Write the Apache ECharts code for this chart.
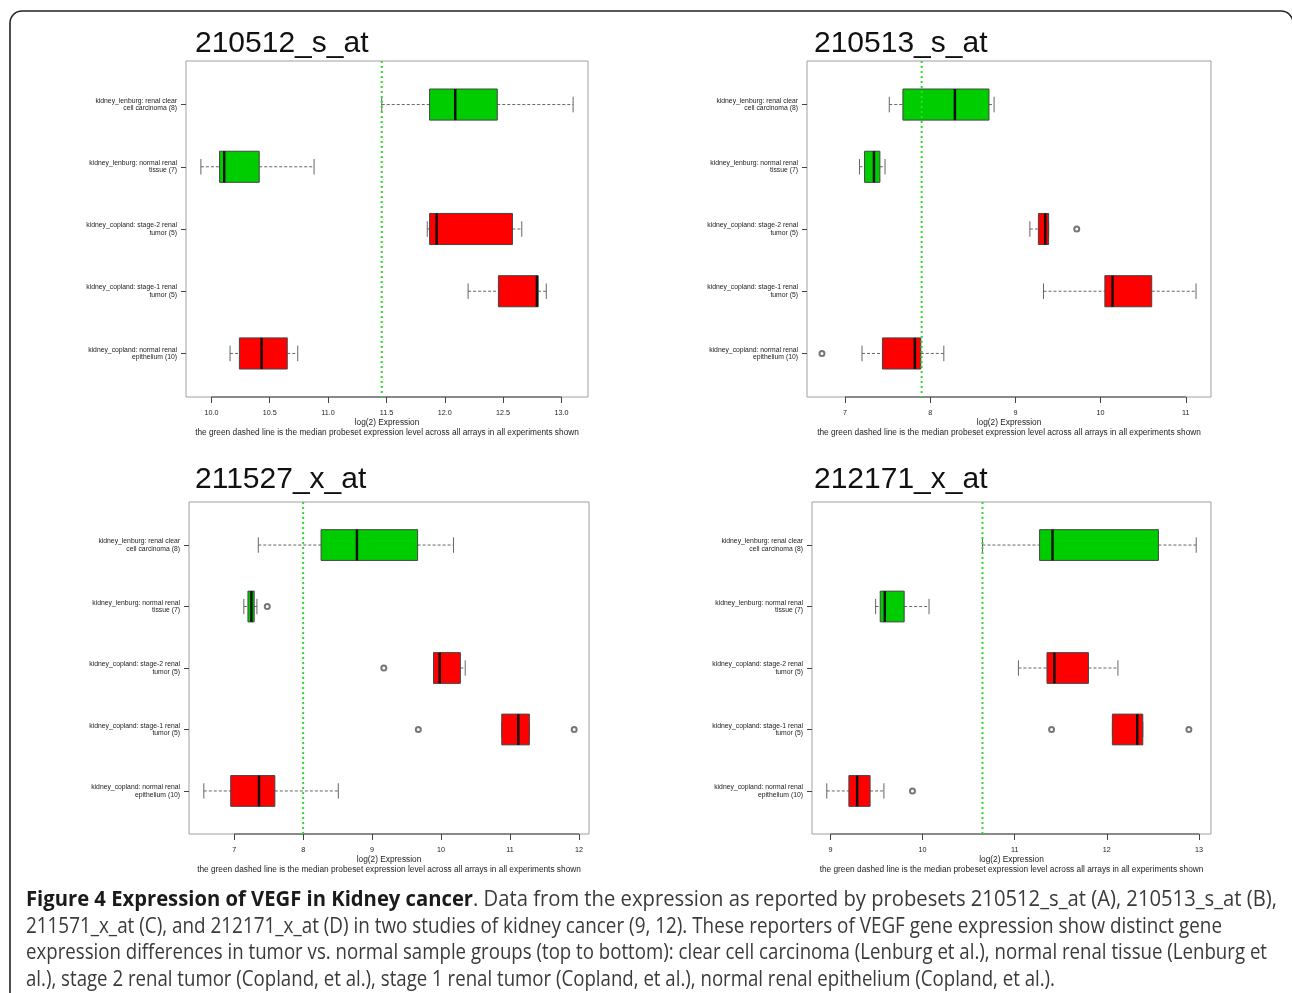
<!DOCTYPE html>
<html>
<head>
<meta charset="utf-8">
<title>Expression of VEGF in Kidney cancer</title>
<script src="https://cdn.jsdelivr.net/npm/echarts@6/dist/echarts.min.js"></script>
<style>
  html, body { margin: 0; padding: 0; background: #ffffff; }
  #chart { width: 1292px; height: 993px; }
</style>
</head>
<body>
<div id="chart"></div>
<script>
// ---- data -------------------------------------------------------------
const probeTitles = ['210512_s_at', '210513_s_at', '211527_x_at', '212171_x_at'];

const groupLabels = [
  'kidney_lenburg: renal clear\ncell carcinoma (8)',
  'kidney_lenburg: normal renal\ntissue (7)',
  'kidney_copland: stage-2 renal\ntumor (5)',
  'kidney_copland: stage-1 renal\ntumor (5)',
  'kidney_copland: normal renal\nepithelium (10)'
];

// five-number summaries per group: [lower whisker, Q1, median, Q3, upper whisker]
const stats210512 = [
  [11.46, 11.87, 12.09, 12.45, 13.10],
  [9.91, 10.07, 10.11, 10.41, 10.88],
  [11.85, 11.87, 11.93, 12.58, 12.66],
  [12.20, 12.46, 12.79, 12.80, 12.87],
  [10.16, 10.24, 10.43, 10.65, 10.74]
];
const stats210513 = [
  [7.52, 7.68, 8.29, 8.69, 8.75],
  [7.17, 7.23, 7.34, 7.41, 7.47],
  [9.17, 9.27, 9.35, 9.39, 9.39],
  [9.33, 10.05, 10.14, 10.60, 11.12],
  [7.20, 7.44, 7.82, 7.89, 8.16]
];
const stats211527 = [
  [7.35, 8.26, 8.78, 9.66, 10.18],
  [7.14, 7.20, 7.25, 7.29, 7.33],
  [9.89, 9.89, 9.98, 10.28, 10.35],
  [10.88, 10.88, 11.12, 11.28, 11.28],
  [6.56, 6.95, 7.36, 7.59, 8.51]
];
const stats212171 = [
  [10.65, 11.27, 11.41, 12.56, 12.97],
  [9.49, 9.54, 9.59, 9.80, 10.07],
  [11.04, 11.35, 11.43, 11.80, 12.12],
  [12.06, 12.06, 12.33, 12.39, 12.39],
  [8.96, 9.20, 9.29, 9.43, 9.58]
];

// outlying arrays: [group index, value]
const outliers210512 = [];
const outliers210513 = [[2, 9.72], [4, 6.73]];
const outliers211527 = [[1, 7.48], [2, 9.17], [3, 9.67], [3, 11.93]];
const outliers212171 = [[3, 11.40], [3, 12.89], [4, 9.89]];

// median probeset expression across all arrays (green dashed line)
const medianLevels = [11.46, 7.90, 8.00, 10.65];

// x-axis tick values
const ticks210512 = [10.0, 10.5, 11.0, 11.5, 12.0, 12.5, 13.0];
const ticks210513 = [7, 8, 9, 10, 11];
const ticks211527 = [7, 8, 9, 10, 11, 12];
const ticks212171 = [9, 10, 11, 12, 13];
const tickDecimals = [1, 0, 0, 0];

const xAxisTitle = 'log(2) Expression';
const xAxisNote = 'the green dashed line is the median probeset expression level across all arrays in all experiments shown';

const captionBold = 'Figure 4 Expression of VEGF in Kidney cancer';
const captionLines = [
  '. Data from the expression as reported by probesets 210512_s_at (A), 210513_s_at (B),',
  '211571_x_at (C), and 212171_x_at (D) in two studies of kidney cancer (9, 12). These reporters of VEGF gene expression show distinct gene',
  'expression differences in tumor vs. normal sample groups (top to bottom): clear cell carcinoma (Lenburg et al.), normal renal tissue (Lenburg et',
  'al.), stage 2 renal tumor (Copland, et al.), stage 1 renal tumor (Copland, et al.), normal renal epithelium (Copland, et al.).'
];

// ---- styles & layout ---------------------------------------------------
const boxFill = ['#00cd00', '#00cd00', '#ff0000', '#ff0000', '#ff0000'];
const FONT = '"Liberation Sans", Arial, Helvetica, sans-serif';
const CAPTION_FONT = '"Open Sans", "Noto Sans", sans-serif';
const CAPTION_SIZE = 21;

const panelLayout = [
  { left: 186, top: 61, width: 402, height: 336, titleLeft: 195, titleTop: 29 },
  { left: 807, top: 61, width: 404, height: 336, titleLeft: 814, titleTop: 29 },
  { left: 189, top: 502, width: 400, height: 332, titleLeft: 195, titleTop: 465 },
  { left: 812, top: 502, width: 399, height: 332, titleLeft: 814, titleTop: 465 }
];
const captionX = 26;
const captionY = [900, 927, 953, 980];
const captionWidths = [1251, 1196, 1241, 1029];

const panels = [
  { stats: stats210512, outliers: outliers210512, ticks: ticks210512 },
  { stats: stats210513, outliers: outliers210513, ticks: ticks210513 },
  { stats: stats211527, outliers: outliers211527, ticks: ticks211527 },
  { stats: stats212171, outliers: outliers212171, ticks: ticks212171 }
];

// axis extent: data range widened by 4% on each side
function extentOf(p) {
  let lo = Infinity, hi = -Infinity;
  p.stats.forEach(function (s) { lo = Math.min(lo, s[0]); hi = Math.max(hi, s[4]); });
  p.outliers.forEach(function (o) { lo = Math.min(lo, o[1]); hi = Math.max(hi, o[1]); });
  const pad = (hi - lo) * 0.04;
  return [lo - pad, hi + pad];
}

// box with dashed whiskers, end caps and a heavy median bar
function renderBox(params, api) {
  const cat = api.value(0);
  const lo = api.coord([api.value(1), cat]);
  const q1 = api.coord([api.value(2), cat]);
  const md = api.coord([api.value(3), cat]);
  const q3 = api.coord([api.value(4), cat]);
  const hi = api.coord([api.value(5), cat]);
  const band = api.size([0, 1])[1];
  const h = band * 0.5;
  const cy = md[1];
  const whisker = { stroke: '#666', lineWidth: 1, lineDash: [3, 2] };
  const cap = { stroke: '#666', lineWidth: 1 };
  return {
    type: 'group',
    children: [
      { type: 'line', shape: { x1: lo[0], y1: cy, x2: q1[0], y2: cy }, style: whisker },
      { type: 'line', shape: { x1: q3[0], y1: cy, x2: hi[0], y2: cy }, style: whisker },
      { type: 'line', shape: { x1: lo[0], y1: cy - h / 4, x2: lo[0], y2: cy + h / 4 }, style: cap },
      { type: 'line', shape: { x1: hi[0], y1: cy - h / 4, x2: hi[0], y2: cy + h / 4 }, style: cap },
      { type: 'rect', shape: { x: q1[0], y: cy - h / 2, width: q3[0] - q1[0], height: h },
        style: { fill: boxFill[cat], stroke: '#444', lineWidth: 1 } },
      { type: 'line', shape: { x1: md[0], y1: cy - h / 2, x2: md[0], y2: cy + h / 2 },
        style: { stroke: '#111', lineWidth: 2.5 } }
    ]
  };
}

// dark axis line from the first to the last tick
function renderAxisLine(params, api) {
  const a = api.coord([api.value(0), 0]);
  const b = api.coord([api.value(1), 0]);
  return { type: 'line', shape: { x1: a[0], y1: a[1], x2: b[0], y2: b[1] },
           style: { stroke: '#444', lineWidth: 1.2 } };
}

// vertical reference line across the whole plotting frame
function renderMedian(params, api) {
  const p = api.coord([api.value(0), 0]);
  const cs = params.coordSys;
  return { type: 'line', shape: { x1: p[0], y1: cs.y, x2: p[0], y2: cs.y + cs.height },
           style: { stroke: '#2bdc2b', lineWidth: 2, lineDash: [2, 3] } };
}

const grid = [], xAxis = [], yAxis = [], series = [], title = [];

panels.forEach(function (p, i) {
  const L = panelLayout[i];
  const ext = extentOf(p);
  const fi = 2 * i, di = 2 * i + 1;
  const inset = L.height * 0.2 / 5.4;
  const dec = tickDecimals[i];

  // plotting frame
  grid.push({ left: L.left, top: L.top, width: L.width, height: L.height,
              show: true, borderColor: '#a0a0a0', borderWidth: 1, backgroundColor: 'transparent' });
  // data area (groups at unit spacing)
  grid.push({ left: L.left, top: L.top + inset, width: L.width, height: L.height - 2 * inset });

  xAxis.push({
    gridIndex: fi, type: 'value', min: ext[0], max: ext[1],
    axisLine: { show: false },
    splitLine: { show: false },
    axisTick: { show: true, customValues: p.ticks, length: 6, lineStyle: { color: '#444' } },
    axisLabel: { customValues: p.ticks, fontSize: 7.2, margin: 13, color: '#222', fontFamily: FONT,
                 formatter: function (v) { return v.toFixed(dec); } },
    name: '{a|' + xAxisTitle + '}\n{a|' + xAxisNote + '}',
    nameLocation: 'middle', nameGap: 21,
    nameTextStyle: { rich: { a: { fontSize: 8.3, lineHeight: 10, color: '#222', fontFamily: FONT } } }
  });
  xAxis.push({ gridIndex: di, type: 'value', min: ext[0], max: ext[1], show: false });

  yAxis.push({ gridIndex: fi, type: 'value', min: 0, max: 1, show: false });
  yAxis.push({
    gridIndex: di, type: 'category', data: groupLabels, inverse: true, boundaryGap: true,
    axisLine: { show: false },
    splitLine: { show: false },
    axisTick: { show: true, alignWithLabel: true, length: 5, lineStyle: { color: '#444' } },
    axisLabel: { interval: 0, fontSize: 6.8, lineHeight: 7.5, margin: 9, color: '#222', fontFamily: FONT }
  });

  series.push({
    type: 'custom', xAxisIndex: di, yAxisIndex: di, z: 2, silent: true,
    renderItem: renderBox,
    encode: { x: [1, 2, 3, 4, 5], y: 0 },
    data: p.stats.map(function (s, k) { return [k].concat(s); })
  });
  series.push({
    type: 'scatter', xAxisIndex: di, yAxisIndex: di, z: 3, silent: true,
    symbol: 'emptyCircle', symbolSize: 5,
    itemStyle: { color: '#555', borderWidth: 0.8 },
    data: p.outliers.map(function (o) { return [o[1], o[0]]; })
  });
  series.push({
    type: 'custom', xAxisIndex: fi, yAxisIndex: fi, z: 4, silent: true,
    renderItem: renderAxisLine, encode: { x: [0, 1] },
    data: [[p.ticks[0], p.ticks[p.ticks.length - 1]]]
  });
  series.push({
    type: 'custom', xAxisIndex: fi, yAxisIndex: fi, z: 5, silent: true,
    renderItem: renderMedian, encode: { x: 0 },
    data: [[medianLevels[i]]]
  });

  title.push({
    text: probeTitles[i], left: L.titleLeft, top: L.titleTop, padding: 0,
    textStyle: { fontSize: 30, fontWeight: 'normal', color: '#111', fontFamily: FONT }
  });
});

// caption lines, each fitted to its column width
const measureCtx = document.createElement('canvas').getContext('2d');
function textWidth(font, s) { measureCtx.font = font; return measureCtx.measureText(s).width; }
const capBoldFont = 'bold ' + CAPTION_SIZE + 'px ' + CAPTION_FONT;
const capFont = CAPTION_SIZE + 'px ' + CAPTION_FONT;

const graphic = [{
  type: 'rect', silent: true,
  shape: { x: 10, y: 11, width: 1283, height: 1000, r: 12 },
  style: { fill: 'none', stroke: '#222', lineWidth: 1.6 }
}];
captionLines.forEach(function (line, k) {
  const bold = k === 0 ? captionBold : '';
  const w = textWidth(capBoldFont, bold) + textWidth(capFont, line);
  graphic.push({
    type: 'text', silent: true, x: captionX, y: captionY[k], scaleX: captionWidths[k] / w,
    style: {
      text: (bold ? '{b|' + bold + '}' : '') + '{r|' + line + '}',
      verticalAlign: 'middle',
      rich: {
        b: { fontSize: CAPTION_SIZE, fontWeight: 'bold', fontFamily: CAPTION_FONT, fill: '#1a1a1a' },
        r: { fontSize: CAPTION_SIZE, fontWeight: 'normal', fontFamily: CAPTION_FONT, fill: '#3a3a3a' }
      }
    }
  });
});

const chart = echarts.init(document.getElementById('chart'), null, { renderer: 'canvas' });
chart.setOption({
  animation: false,
  backgroundColor: '#ffffff',
  title: title,
  grid: grid,
  xAxis: xAxis,
  yAxis: yAxis,
  series: series,
  graphic: graphic
});
</script>
</body>
</html>
